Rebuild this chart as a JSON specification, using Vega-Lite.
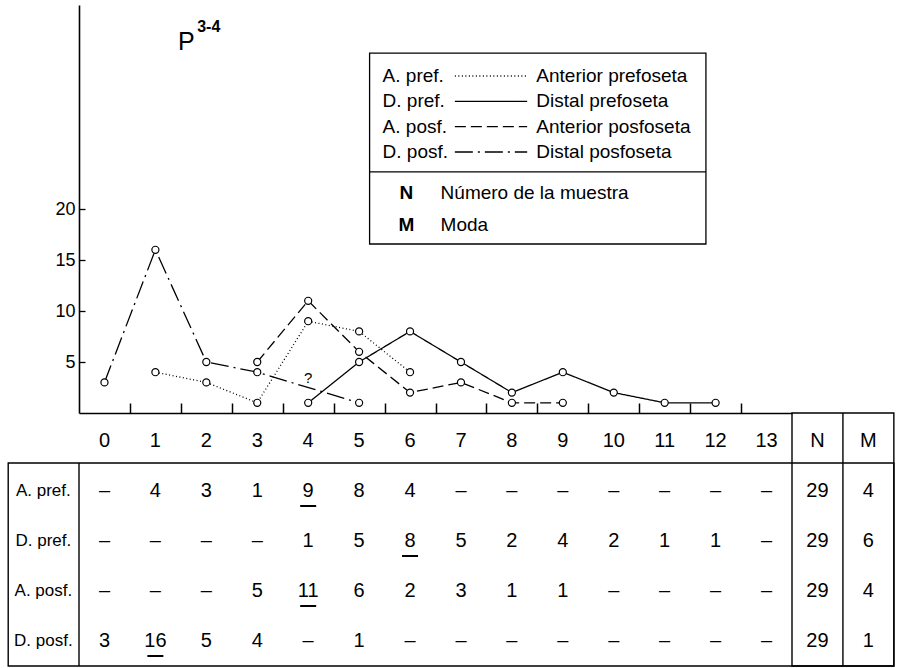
{
  "$schema": "https://vega.github.io/schema/vega-lite/v6.json",
  "width": 713,
  "height": 408,
  "autosize": {"type": "none"},
  "padding": {"left": 79, "top": 5, "right": 109, "bottom": 255},
  "background": "white",
  "config": {
    "view": {"stroke": null},
    "font": "Liberation Sans",
    "text": {"color": "black", "font": "Liberation Sans"},
    "axis": {"labelFont": "Liberation Sans", "labelColor": "black", "domainColor": "black", "tickColor": "black", "grid": false, "title": null}
  },
  "datasets": {
    "lines": [
      {"series": "A. pref.", "x": 1, "y": 4},
      {"series": "A. pref.", "x": 2, "y": 3},
      {"series": "A. pref.", "x": 3, "y": 1},
      {"series": "A. pref.", "x": 4, "y": 9},
      {"series": "A. pref.", "x": 5, "y": 8},
      {"series": "A. pref.", "x": 6, "y": 4},
      {"series": "D. pref.", "x": 4, "y": 1},
      {"series": "D. pref.", "x": 5, "y": 5},
      {"series": "D. pref.", "x": 6, "y": 8},
      {"series": "D. pref.", "x": 7, "y": 5},
      {"series": "D. pref.", "x": 8, "y": 2},
      {"series": "D. pref.", "x": 9, "y": 4},
      {"series": "D. pref.", "x": 10, "y": 2},
      {"series": "D. pref.", "x": 11, "y": 1},
      {"series": "D. pref.", "x": 12, "y": 1},
      {"series": "A. posf.", "x": 3, "y": 5},
      {"series": "A. posf.", "x": 4, "y": 11},
      {"series": "A. posf.", "x": 5, "y": 6},
      {"series": "A. posf.", "x": 6, "y": 2},
      {"series": "A. posf.", "x": 7, "y": 3},
      {"series": "A. posf.", "x": 8, "y": 1},
      {"series": "A. posf.", "x": 9, "y": 1},
      {"series": "D. posf.", "x": 0, "y": 3},
      {"series": "D. posf.", "x": 1, "y": 16},
      {"series": "D. posf.", "x": 2, "y": 5},
      {"series": "D. posf.", "x": 3, "y": 4},
      {"series": "D. posf.", "x": 5, "y": 1}
    ],
    "legend": [
      {"series": "A. pref.", "desc": "Anterior prefoseta"},
      {"series": "D. pref.", "desc": "Distal prefoseta"},
      {"series": "A. posf.", "desc": "Anterior posfoseta"},
      {"series": "D. posf.", "desc": "Distal posfoseta"}
    ],
    "table": [
      {"row": "hdr", "col": 0, "label": "0"}, {"row": "hdr", "col": 1, "label": "1"}, {"row": "hdr", "col": 2, "label": "2"}, {"row": "hdr", "col": 3, "label": "3"},
      {"row": "hdr", "col": 4, "label": "4"}, {"row": "hdr", "col": 5, "label": "5"}, {"row": "hdr", "col": 6, "label": "6"}, {"row": "hdr", "col": 7, "label": "7"},
      {"row": "hdr", "col": 8, "label": "8"}, {"row": "hdr", "col": 9, "label": "9"}, {"row": "hdr", "col": 10, "label": "10"}, {"row": "hdr", "col": 11, "label": "11"},
      {"row": "hdr", "col": 12, "label": "12"}, {"row": "hdr", "col": 13, "label": "13"}, {"row": "hdr", "col": 14, "label": "N"}, {"row": "hdr", "col": 15, "label": "M"},
      {"row": "A. pref.", "col": 0, "label": "–"}, {"row": "A. pref.", "col": 1, "label": "4"}, {"row": "A. pref.", "col": 2, "label": "3"}, {"row": "A. pref.", "col": 3, "label": "1"},
      {"row": "A. pref.", "col": 4, "label": "9", "mode": true}, {"row": "A. pref.", "col": 5, "label": "8"}, {"row": "A. pref.", "col": 6, "label": "4"}, {"row": "A. pref.", "col": 7, "label": "–"},
      {"row": "A. pref.", "col": 8, "label": "–"}, {"row": "A. pref.", "col": 9, "label": "–"}, {"row": "A. pref.", "col": 10, "label": "–"}, {"row": "A. pref.", "col": 11, "label": "–"},
      {"row": "A. pref.", "col": 12, "label": "–"}, {"row": "A. pref.", "col": 13, "label": "–"}, {"row": "A. pref.", "col": 14, "label": "29"}, {"row": "A. pref.", "col": 15, "label": "4"},
      {"row": "D. pref.", "col": 0, "label": "–"}, {"row": "D. pref.", "col": 1, "label": "–"}, {"row": "D. pref.", "col": 2, "label": "–"}, {"row": "D. pref.", "col": 3, "label": "–"},
      {"row": "D. pref.", "col": 4, "label": "1"}, {"row": "D. pref.", "col": 5, "label": "5"}, {"row": "D. pref.", "col": 6, "label": "8", "mode": true}, {"row": "D. pref.", "col": 7, "label": "5"},
      {"row": "D. pref.", "col": 8, "label": "2"}, {"row": "D. pref.", "col": 9, "label": "4"}, {"row": "D. pref.", "col": 10, "label": "2"}, {"row": "D. pref.", "col": 11, "label": "1"},
      {"row": "D. pref.", "col": 12, "label": "1"}, {"row": "D. pref.", "col": 13, "label": "–"}, {"row": "D. pref.", "col": 14, "label": "29"}, {"row": "D. pref.", "col": 15, "label": "6"},
      {"row": "A. posf.", "col": 0, "label": "–"}, {"row": "A. posf.", "col": 1, "label": "–"}, {"row": "A. posf.", "col": 2, "label": "–"}, {"row": "A. posf.", "col": 3, "label": "5"},
      {"row": "A. posf.", "col": 4, "label": "11", "mode": true}, {"row": "A. posf.", "col": 5, "label": "6"}, {"row": "A. posf.", "col": 6, "label": "2"}, {"row": "A. posf.", "col": 7, "label": "3"},
      {"row": "A. posf.", "col": 8, "label": "1"}, {"row": "A. posf.", "col": 9, "label": "1"}, {"row": "A. posf.", "col": 10, "label": "–"}, {"row": "A. posf.", "col": 11, "label": "–"},
      {"row": "A. posf.", "col": 12, "label": "–"}, {"row": "A. posf.", "col": 13, "label": "–"}, {"row": "A. posf.", "col": 14, "label": "29"}, {"row": "A. posf.", "col": 15, "label": "4"},
      {"row": "D. posf.", "col": 0, "label": "3"}, {"row": "D. posf.", "col": 1, "label": "16", "mode": true}, {"row": "D. posf.", "col": 2, "label": "5"}, {"row": "D. posf.", "col": 3, "label": "4"},
      {"row": "D. posf.", "col": 4, "label": "–"}, {"row": "D. posf.", "col": 5, "label": "1"}, {"row": "D. posf.", "col": 6, "label": "–"}, {"row": "D. posf.", "col": 7, "label": "–"},
      {"row": "D. posf.", "col": 8, "label": "–"}, {"row": "D. posf.", "col": 9, "label": "–"}, {"row": "D. posf.", "col": 10, "label": "–"}, {"row": "D. posf.", "col": 11, "label": "–"},
      {"row": "D. posf.", "col": 12, "label": "–"}, {"row": "D. posf.", "col": 13, "label": "–"}, {"row": "D. posf.", "col": 14, "label": "29"}, {"row": "D. posf.", "col": 15, "label": "1"}
    ]
  },
  "resolve": {"scale": {"y": "independent"}},
  "layer": [
    {
      "data": {"values": [{}]},
      "layer": [
        {
          "data": {"name": "lines"},
          "mark": {"type": "line", "color": "black", "strokeWidth": 1.3},
          "encoding": {
            "x": {"field": "x", "type": "quantitative", "scale": {"domain": [-0.5, 13.5], "nice": false, "zero": false},
                  "axis": {"values": [0.5, 1.5, 2.5, 3.5, 4.5, 5.5, 6.5, 7.5, 8.5, 9.5, 10.5, 11.5, 12.5], "labels": false, "tickSize": -10, "tickWidth": 1.5, "domainWidth": 1.6}},
            "y": {"field": "y", "type": "quantitative", "scale": {"domain": [0, 40], "nice": false, "zero": false},
                  "axis": {"values": [5, 10, 15, 20], "tickSize": -6, "tickWidth": 1.3, "domainWidth": 1.6, "labelFontSize": 18, "labelPadding": 10}},
            "strokeDash": {"field": "series", "type": "nominal",
                  "scale": {"domain": ["A. pref.", "D. pref.", "A. posf.", "D. posf."], "range": [[1, 2.5], [1, 0], [11, 5], [18, 5, 2, 5]]}, "legend": null}
          }
        },
        {
          "data": {"name": "lines"},
          "mark": {"type": "point", "shape": "circle", "filled": true, "fill": "white", "stroke": "black", "strokeWidth": 1.2, "size": 50, "opacity": 1},
          "encoding": {
            "x": {"field": "x", "type": "quantitative"},
            "y": {"field": "y", "type": "quantitative"}
          }
        },
        {"mark": {"type": "text", "text": "?", "fontSize": 15}, "encoding": {"x": {"datum": 4}, "y": {"datum": 3.4}}},
        {"mark": {"type": "text", "text": "P", "fontSize": 25, "align": "center", "baseline": "alphabetic"}, "encoding": {"x": {"datum": 1.61}, "y": {"datum": 35.6}}},
        {"mark": {"type": "text", "text": "3-4", "fontSize": 16, "fontWeight": "bold", "align": "left", "baseline": "alphabetic"}, "encoding": {"x": {"datum": 1.82}, "y": {"datum": 37.4}}},
        {"mark": {"type": "rect", "fill": null, "fillOpacity": 0, "stroke": "black", "strokeWidth": 1.3},
         "encoding": {"x": {"datum": 5.206}, "x2": {"datum": 11.81}, "y": {"datum": 35.29}, "y2": {"datum": 16.57}}},
        {"mark": {"type": "rule", "color": "black", "strokeWidth": 1.3},
         "encoding": {"x": {"datum": 5.206}, "x2": {"datum": 11.81}, "y": {"datum": 23.63}}},
        {"mark": {"type": "text", "text": "N", "fontSize": 19, "fontWeight": "bold", "align": "center", "baseline": "middle"}, "encoding": {"x": {"datum": 5.93}, "y": {"datum": 21.57}}},
        {"mark": {"type": "text", "text": "Número de la muestra", "fontSize": 19, "align": "left", "baseline": "middle"}, "encoding": {"x": {"datum": 6.6}, "y": {"datum": 21.57}}},
        {"mark": {"type": "text", "text": "M", "fontSize": 19, "fontWeight": "bold", "align": "center", "baseline": "middle"}, "encoding": {"x": {"datum": 5.93}, "y": {"datum": 18.43}}},
        {"mark": {"type": "text", "text": "Moda", "fontSize": 19, "align": "left", "baseline": "middle"}, "encoding": {"x": {"datum": 6.6}, "y": {"datum": 18.43}}},
        {"mark": {"type": "rect", "fill": null, "fillOpacity": 0, "stroke": "black", "strokeWidth": 1.4},
         "encoding": {"x": {"datum": -1.89}, "x2": {"datum": 15.5}, "y": {"datum": -4.9}, "y2": {"datum": -24.8}}},
        {"mark": {"type": "rect", "fill": null, "fillOpacity": 0, "stroke": "black", "strokeWidth": 1.4},
         "encoding": {"x": {"datum": 13.5}, "x2": {"datum": 15.5}, "y": {"datum": 0}, "y2": {"datum": -24.8}}},
        {"mark": {"type": "rule", "color": "black", "strokeWidth": 1.4},
         "encoding": {"x": {"datum": -0.5}, "y": {"datum": -4.9}, "y2": {"datum": -24.8}}},
        {"mark": {"type": "rule", "color": "black", "strokeWidth": 1.4},
         "encoding": {"x": {"datum": 14.5}, "y": {"datum": 0}, "y2": {"datum": -24.8}}}
      ]
    },
    {
      "data": {"name": "legend"},
      "encoding": {
        "y": {"field": "series", "type": "ordinal", "scale": {"type": "point", "domain": ["A. pref.", "D. pref.", "A. posf.", "D. posf."], "range": [71, 147], "padding": 0}, "axis": null}
      },
      "layer": [
        {"mark": {"type": "text", "fontSize": 19, "align": "left", "baseline": "middle"},
         "encoding": {"x": {"datum": 5.461}, "text": {"field": "series"}}},
        {"mark": {"type": "rule", "color": "black", "strokeWidth": 1.3},
         "encoding": {"x": {"datum": 6.88}, "x2": {"datum": 8.3},
                      "strokeDash": {"field": "series", "type": "nominal", "scale": {"domain": ["A. pref.", "D. pref.", "A. posf.", "D. posf."], "range": [[1, 2.5], [1, 0], [11, 5], [18, 5, 2, 5]]}, "legend": null}}},
        {"mark": {"type": "text", "fontSize": 19, "align": "left", "baseline": "middle"},
         "encoding": {"x": {"datum": 8.48}, "text": {"field": "desc"}}}
      ]
    },
    {
      "data": {"name": "table"},
      "encoding": {
        "y": {"field": "row", "type": "ordinal", "scale": {"type": "point", "domain": ["hdr", "A. pref.", "D. pref.", "A. posf.", "D. posf."], "range": [436, 636], "padding": 0}, "axis": null}
      },
      "layer": [
        {"mark": {"type": "text", "fontSize": 20, "align": "center", "baseline": "middle"},
         "encoding": {"x": {"field": "col", "type": "quantitative"}, "text": {"field": "label"}}},
        {"transform": [{"filter": "datum.mode"}],
         "mark": {"type": "rule", "color": "black", "strokeWidth": 2, "xOffset": -8, "x2Offset": 8, "yOffset": 15},
         "encoding": {"x": {"field": "col", "type": "quantitative"}, "x2": {"field": "col"}}},
        {"transform": [{"filter": "datum.col == 0 && datum.row != 'hdr'"}],
         "mark": {"type": "text", "fontSize": 17, "align": "center", "baseline": "middle"},
         "encoding": {"x": {"datum": -1.2}, "text": {"field": "row"}}}
      ]
    }
  ]
}
